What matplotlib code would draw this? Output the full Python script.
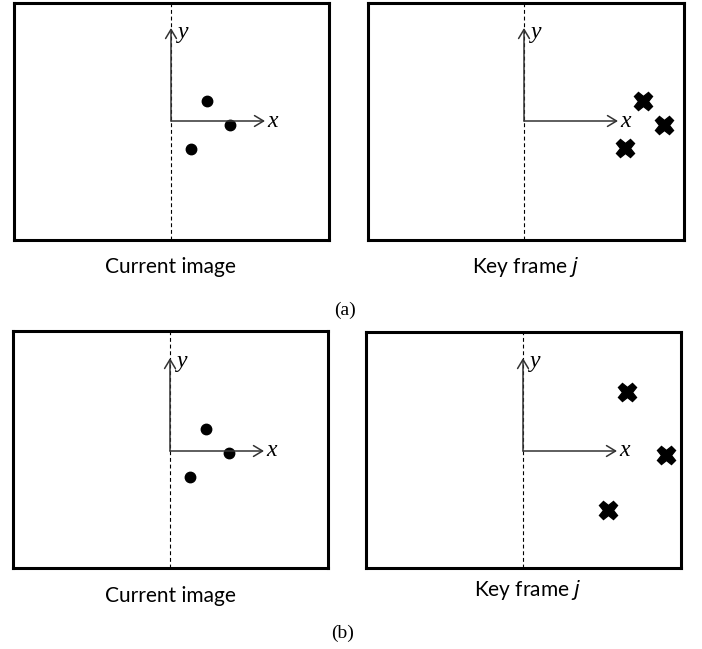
import matplotlib
matplotlib.use("Agg")
import matplotlib.pyplot as plt

# Feature positions, in pixels from each frame's origin (x right, y up)
cur_a_x = [36, 59, 20]
cur_a_y = [20, -4, -28]
key_a_x = [119, 140, 101]
key_a_y = [20, -4, -27]
cur_b_x = [36, 59, 20]
cur_b_y = [22, -2, -26]
key_b_x = [104, 143, 85]
key_b_y = [59, -4, -59]

W, H = 702, 649
fig = plt.figure(figsize=(W / 100, H / 100), dpi=100)


def frame(box, origin):
    # box = (left, top, right, bottom) in pixels, origin = (x, y) in pixels
    l, t, r, b = box
    ox, oy = origin
    ax = fig.add_axes([l / W, 1 - b / H, (r - l) / W, (b - t) / H])
    ax.set_xlim(l - ox, r - ox)
    ax.set_ylim(oy - b, oy - t)
    ax.set_xticks([])
    ax.set_yticks([])
    for s in ax.spines.values():
        s.set_linewidth(2.2)
        s.set_color("black")
    ax.axvline(0, ls=(0, (3.5, 2.5)), lw=0.8, color="black")
    arrow = dict(arrowstyle="->,head_length=0.5,head_width=0.3", lw=1.1,
                 color="#333333", mutation_scale=13, shrinkA=0, shrinkB=0)
    ax.annotate("", xy=(94, 0), xytext=(0, 0), arrowprops=arrow)
    ax.annotate("", xy=(0, 93), xytext=(0, 0), arrowprops=arrow)
    ax.text(96, 0, "x", fontsize=17, family="Liberation Serif", style="italic",
            ha="left", va="center")
    ax.text(7, 89, "y", fontsize=17, family="Liberation Serif", style="italic",
            ha="left", va="center")
    return ax


def caption(x, y, s, **kw):
    fig.text(x / W, 1 - y / H, s, ha="center", va="center", **kw)


ax = frame((14, 3, 329, 240), (171, 121))
ax.plot(cur_a_x, cur_a_y, "o", color="black", ms=7.5, ls="none")
ax = frame((368, 3, 684, 240), (524, 121))
ax.plot(key_a_x, key_a_y, "X", color="black", ms=13, ls="none")
ax = frame((13, 331, 328, 568), (170, 451))
ax.plot(cur_b_x, cur_b_y, "o", color="black", ms=7.5, ls="none")
ax = frame((366, 332, 681, 568), (523, 451))
ax.plot(key_b_x, key_b_y, "X", color="black", ms=13, ls="none")

cap = dict(fontsize=15, family="Lato")
caption(170, 267, "Current image", **cap)
caption(526, 267, "Key frame $\\it{j}$", **cap)
caption(170, 596, "Current image", **cap)
caption(528, 590, "Key frame $\\it{j}$", **cap)
caption(345, 310, "(a)", fontsize=14, family="Liberation Serif")
caption(343, 633, "(b)", fontsize=14, family="Liberation Serif")

fig.savefig("out.png", dpi=100)
